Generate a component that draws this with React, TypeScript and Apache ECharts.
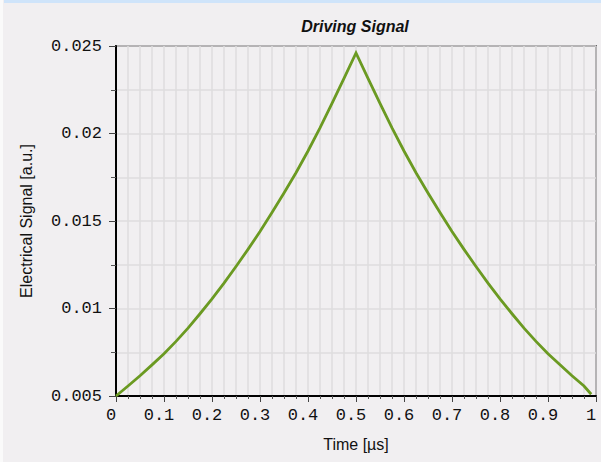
import React, { useEffect, useRef } from "react";
import * as echarts from "echarts";

const title = "Driving Signal";
const xName = "Time [µs]";
const yName = "Electrical Signal [a.u.]";

const time = [
  0, 0.025, 0.05, 0.075, 0.1, 0.125, 0.15, 0.175, 0.2, 0.225, 0.25, 0.275, 0.3, 0.325, 0.35, 0.375, 0.4, 0.425, 0.45, 0.475,
  0.5, 0.525, 0.55, 0.575, 0.6, 0.625, 0.65, 0.675, 0.7, 0.725, 0.75, 0.775, 0.8, 0.825, 0.85, 0.875, 0.9, 0.925, 0.95, 0.975,
  0.99,
];
const signal = [
  0.005, 0.00557, 0.00616, 0.00678, 0.00742, 0.00812, 0.00888, 0.0097, 0.01055, 0.01145, 0.0124, 0.01338, 0.0144, 0.01548,
  0.0166, 0.01776, 0.019, 0.02032, 0.02172, 0.02315, 0.0246, 0.02315, 0.02172, 0.02032, 0.019, 0.01776, 0.0166, 0.01548,
  0.0144, 0.01338, 0.0124, 0.01145, 0.01055, 0.0097, 0.00888, 0.00812, 0.00742, 0.00678, 0.00616, 0.00557, 0.0051,
];

const BG = "#f1eff1";
const GRID = "#dedcde";
const LINE = "#6b9a22";

export default function App() {
  const ref = useRef<HTMLDivElement>(null);
  useEffect(() => {
    if (!ref.current) return;
    const chart = echarts.init(ref.current, undefined, { renderer: "svg" });
    const mono = "'Liberation Mono', 'Courier New', monospace";
    const sans = "'Liberation Sans', Arial, sans-serif";
    chart.setOption({
      animation: false,
      backgroundColor: BG,
      graphic: [
        { type: "rect", shape: { x: 4, y: 0, width: 597, height: 3 }, style: { fill: "#cfe4fa" }, silent: true },
        { type: "rect", shape: { x: 0, y: 0, width: 3, height: 462 }, style: { fill: "#fafafa" }, silent: true },
      ],
      title: {
        text: title,
        left: 350,
        top: 13,
        textAlign: "center",
        textStyle: { fontFamily: sans, fontSize: 16, fontWeight: "bold", fontStyle: "italic", color: "#111" },
      },
      grid: {
        left: 116,
        right: 5,
        top: 46,
        bottom: 66,
        show: true,
        backgroundColor: BG,
        borderColor: "#000",
        borderWidth: 1.5,
      },
      xAxis: {
        type: "value",
        min: 0,
        max: 1,
        interval: 0.1,
        name: xName,
        nameLocation: "middle",
        nameGap: 40,
        nameTextStyle: { fontFamily: sans, fontSize: 16, color: "#111" },
        axisLine: { show: true, lineStyle: { color: "#000", width: 2 } },
        axisTick: { show: true, length: 6, lineStyle: { color: "#444" } },
        minorTick: { show: true, splitNumber: 4, length: 3, lineStyle: { color: "#555" } },
        splitLine: { show: true, lineStyle: { color: GRID, width: 1.5 } },
        minorSplitLine: { show: true, lineStyle: { color: GRID, width: 1.5 } },
        axisLabel: {
          fontFamily: mono,
          fontSize: 17,
          color: "#111",
          margin: 11,
          padding: [0, 10, 0, 0],
          formatter: (v: number) => String(parseFloat(v.toFixed(3))),
        },
      },
      yAxis: {
        type: "value",
        min: 0.005,
        max: 0.025,
        interval: 0.005,
        name: yName,
        nameLocation: "middle",
        nameGap: 82,
        nameTextStyle: { fontFamily: sans, fontSize: 16, color: "#111" },
        axisLine: { show: true, lineStyle: { color: "#000", width: 2 } },
        axisTick: { show: true, length: 7, lineStyle: { color: "#444" } },
        minorTick: { show: true, splitNumber: 2, length: 5, lineStyle: { color: "#555" } },
        splitLine: { show: true, lineStyle: { color: GRID, width: 1.5 } },
        minorSplitLine: { show: true, lineStyle: { color: GRID, width: 1.5 } },
        axisLabel: {
          fontFamily: mono,
          fontSize: 17,
          color: "#111",
          margin: 14,
          padding: [0, 0, 4, 0],
          formatter: (v: number) => String(parseFloat(v.toFixed(4))),
        },
      },
      series: [
        {
          type: "line",
          data: time.map((t, i) => [t, signal[i]]),
          showSymbol: false,
          smooth: false,
          lineStyle: { color: LINE, width: 2.8, join: "miter" },
          itemStyle: { color: LINE },
        },
      ],
    });
    return () => chart.dispose();
  }, []);
  return (
    <div
      ref={ref}
      style={{ position: "absolute", left: 0, top: 0, width: 601, height: 462 }}
    />
  );
}
